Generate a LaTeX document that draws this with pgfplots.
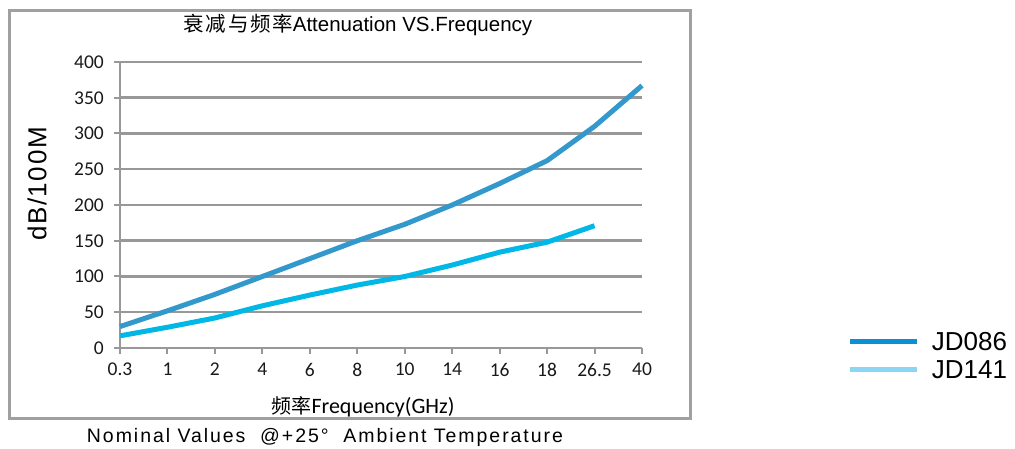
\documentclass[border=0pt]{standalone}
\usepackage{fontspec}
\setmainfont{Liberation Sans}
\newfontfamily\calfont{Carlito}
\newfontfamily\cjk{Noto Sans CJK SC}
\usepackage{pgfplots}
\pgfplotsset{compat=1.18}

\definecolor{jdDark}{RGB}{51,153,204}
\definecolor{jdLight}{RGB}{0,183,230}
\definecolor{legDark}{RGB}{11,143,214}
\definecolor{legLight}{RGB}{140,214,245}
\definecolor{gridgray}{RGB}{152,152,152}
\definecolor{framegray}{RGB}{160,160,160}

\begin{document}
\begin{tikzpicture}
\useasboundingbox (0,0) rectangle (1015pt,449pt);
% outer frame
\draw[framegray, line width=3pt] (9pt,30pt) rectangle (690pt,438pt);

\begin{axis}[
    at={(120pt,101pt)}, anchor=south west,
    scale only axis,
    width=522pt, height=286pt,
    xmin=0, xmax=11,
    ymin=0, ymax=400,
    xtick={0,...,11},
    xticklabels={0.3,1,2,4,6,8,10,14,16,18,26.5,40},
    ytick={0,50,...,400},
    axis lines=left,
    axis line style={gridgray, line width=2.5pt, -},
    ymajorgrids,
    major grid style={gridgray, line width=2.5pt},
    tick align=outside,
    major tick length=6pt,
    tick style={gridgray, line width=2pt},
    /pgf/number format/assume math mode=true,
    ticklabel style={font=\calfont\fontsize{19.5}{19.5}\selectfont, text=black!90},
    yticklabel style={inner sep=0pt, xshift=-10pt},
    xticklabel style={inner sep=0pt, yshift=-9pt},
    clip=false,
    legend style={at={(1.393,0.055)}, anchor=north west, draw=none, fill=none,
        font=\fontsize{26}{26}\selectfont, inner sep=0pt,
        row sep=10pt, nodes={inner sep=0pt, text depth=0pt}},
    legend cell align=left,
    legend image code/.code={\draw[#1] (0pt,0pt) -- (67pt,0pt);},
    ]
\addplot[jdDark, line width=5pt, forget plot] coordinates {
    (0,30) (1,52) (2,75) (3,100) (4,125) (5,150)
    (6,173) (7,200) (8,230) (9,262) (10,310) (11,367)
    };
\addplot[jdLight, line width=5pt, forget plot] coordinates {
    (0,17) (1,29) (2,42) (3,59) (4,74) (5,88)
    (6,100) (7,116) (8,134) (9,148) (10,171)
    };
\addlegendimage{legDark, line width=4.5pt}
\addlegendentry{\hspace{13pt}JD086}
\addlegendimage{legLight, line width=4.5pt}
\addlegendentry{\hspace{13pt}JD141}
\end{axis}

% titles and labels
\node[font=\fontsize{20.5}{20.5}\selectfont] at (358pt,424pt)
    {{\cjk\addfontfeatures{LetterSpace=8}衰减与频率}Attenuation VS.Frequency};
\node[font=\calfont\fontsize{22}{22}\selectfont] at (363pt,42pt)
    {{\cjk\fontsize{20}{20}\selectfont 频率}Frequency(GHz)};
\node[rotate=90, font=\fontsize{26}{26}\selectfont\addfontfeatures{LetterSpace=6}] at (37pt,265pt) {dB/100M};
\node[font=\fontsize{19.5}{19.5}\selectfont\addfontfeatures{LetterSpace=10}] at (325pt,12pt)
    {Nominal Values \ @+25° \ Ambient Temperature};
\end{tikzpicture}
\end{document}
